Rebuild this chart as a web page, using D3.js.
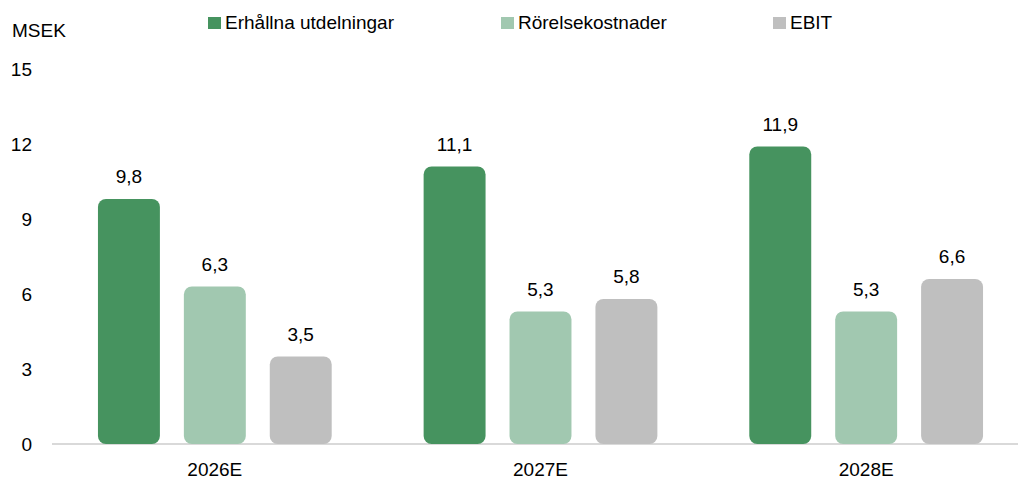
<!DOCTYPE html>
<html><head><meta charset="utf-8">
<script src="https://cdn.jsdelivr.net/npm/d3@7"></script>
<style>
body{margin:0;background:#fff;}
text{font-family:"Liberation Sans Narrow","Arial Narrow","Liberation Sans",Arial,sans-serif;fill:#000;}
</style></head><body>
<svg id="c" width="1018" height="481"></svg>
<script>
const categories = ["2026E","2027E","2028E"];
const seriesNames = ["Erhållna utdelningar","Rörelsekostnader","EBIT"];
const erhallna = [9.8, 11.1, 11.9];
const rorelse = [6.3, 5.3, 5.3];
const ebit = [3.5, 5.8, 6.6];
const yTicks = [0,3,6,9,12,15];
const colors = ["#46935f","#a1c8b0","#bfbfbf"];

const seriesVals = [erhallna, rorelse, ebit];
const data = categories.map((c,i)=>({cat:c, vals: seriesNames.map((s,j)=>({s, v: seriesVals[j][i], j}))}));

const svg = d3.select("#c");
const fs = 19;
const y = d3.scaleLinear().domain([0,15]).range([444,69]);
const x0 = d3.scaleBand().domain(categories).range([52,1029]).padding(0);
const x1 = d3.scaleBand().domain(seriesNames).range([0,x0.bandwidth()]).paddingInner(0.279).paddingOuter(0.535);

svg.append("line").attr("x1",52).attr("x2",1018).attr("y1",y(0)).attr("y2",y(0))
  .attr("stroke","#d9d9d9").attr("stroke-width",2);

svg.selectAll(".yt").data(yTicks).enter().append("text")
  .attr("x",32).attr("y",d=>y(d)+7).attr("text-anchor","end")
  .attr("font-size",fs).text(d=>d);

svg.append("text").attr("x",12).attr("y",37).attr("font-size",fs).text("MSEK");

const g = svg.selectAll(".grp").data(data).enter().append("g")
  .attr("transform",d=>`translate(${x0(d.cat)},0)`);
g.selectAll("rect").data(d=>d.vals).enter().append("rect")
  .attr("x",d=>x1(d.s)).attr("width",x1.bandwidth())
  .attr("y",d=>y(d.v)).attr("height",d=>y(0)-y(d.v))
  .attr("rx",8).attr("ry",8).attr("fill",d=>colors[d.j]);
g.selectAll(".lbl").data(d=>d.vals).enter().append("text")
  .attr("x",d=>x1(d.s)+x1.bandwidth()/2).attr("y",d=>y(d.v)-16)
  .attr("text-anchor","middle").attr("font-size",fs)
  .text(d=>d3.format(".1f")(d.v).replace(".",","));

svg.selectAll(".xl").data(categories).enter().append("text")
  .attr("x",d=>x0(d)+x0.bandwidth()/2).attr("y",476).attr("text-anchor","middle")
  .attr("font-size",fs).text(d=>d);

const legX = [208,501,773];
const lg = svg.selectAll(".lg").data(seriesNames).enter().append("g")
  .attr("transform",(d,i)=>`translate(${legX[i]},17)`);
lg.append("rect").attr("width",13).attr("height",12).attr("fill",(d,i)=>colors[i]);
lg.append("text").attr("x",17).attr("y",12).attr("font-size",fs).text(d=>d);
</script></body></html>
